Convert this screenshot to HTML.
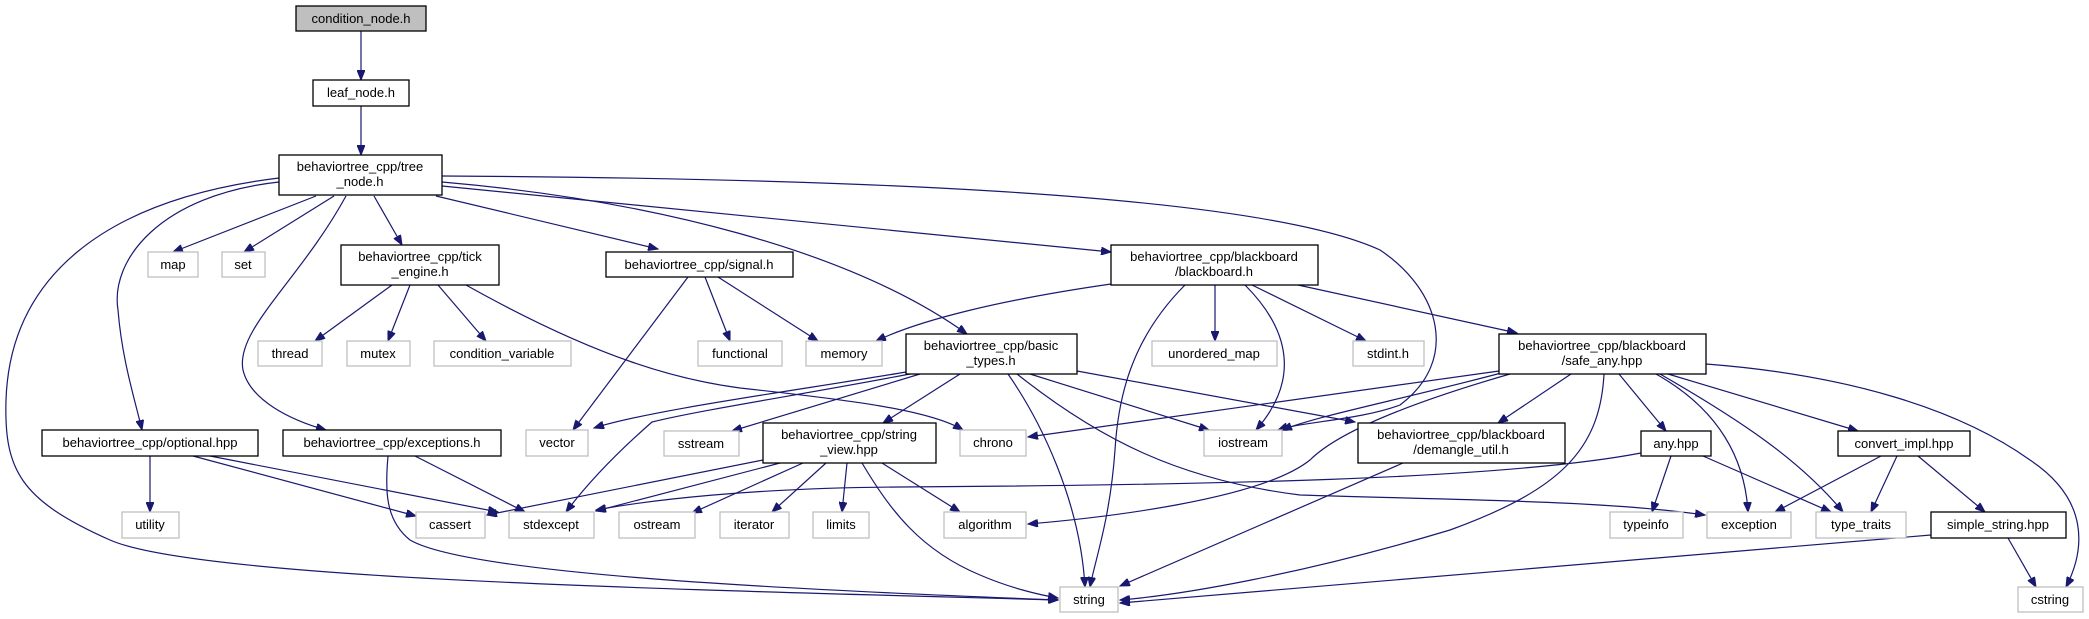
<!DOCTYPE html>
<html><head><meta charset="utf-8"><style>
html,body{margin:0;padding:0;background:#fff;}
svg{display:block;}
text{font-family:"Liberation Sans",sans-serif;font-size:13px;fill:#000;text-anchor:middle;}
.b{fill:#fff;stroke:#000;stroke-width:1.3;}
.g{fill:#fff;stroke:#bfbfbf;stroke-width:1.3;}
.e{fill:none;stroke:#191970;stroke-width:1.2;marker-end:url(#ah);}
</style></head><body>
<svg width="2089" height="619" viewBox="0 0 2089 619" xmlns="http://www.w3.org/2000/svg">
<defs><marker id="ah" markerUnits="userSpaceOnUse" markerWidth="11" markerHeight="8" refX="10" refY="4" orient="auto"><path d="M0,0 L10,4 L0,8 z" fill="#191970" stroke="#191970"/></marker></defs>

<!-- edges -->
<path class="e" d="M361,31 L361,80"/>
<path class="e" d="M361,106 L361,155"/>
<path class="e" d="M316,196 L173,252"/>
<path class="e" d="M334,196 L244,252"/>
<path class="e" d="M374,196 L402,245"/>
<path class="e" d="M436,196 L658,249"/>
<path class="e" d="M442,186 L1111,252"/>
<path class="e" d="M442,182 C650,200 850,250 967,334"/>
<path class="e" d="M279,182 C160,195 110,260 118,310 C122,360 135,400 142,430"/>
<path class="e" d="M346,196 C300,280 235,330 243,370 C250,400 290,420 326,430"/>
<path class="e" d="M279,178 C100,200 10,280 6,400 C4,470 20,500 110,540 C200,580 700,590 1058,600"/>
<path class="e" d="M442,176 C800,178 1250,190 1380,250 C1440,290 1460,360 1400,405 C1360,420 1300,422 1278,430"/>

<path class="e" d="M392,285 L315,341"/>
<path class="e" d="M410,285 L388,341"/>
<path class="e" d="M438,285 L486,341"/>
<path class="e" d="M466,285 C600,360 680,380 740,388 C850,400 930,410 963,430"/>

<path class="e" d="M688,277 L573,430"/>
<path class="e" d="M705,277 L730,341"/>
<path class="e" d="M718,277 L818,341"/>

<path class="e" d="M1111,284 C1000,300 920,320 876,341"/>
<path class="e" d="M1185,285 C1130,340 1118,400 1115,450 C1110,520 1095,560 1090,587"/>
<path class="e" d="M1215,285 L1215,341"/>
<path class="e" d="M1245,285 C1290,330 1300,380 1256,430"/>
<path class="e" d="M1252,285 L1366,341"/>
<path class="e" d="M1298,285 L1517,333"/>

<path class="e" d="M906,372 C800,390 650,410 594,428"/>
<path class="e" d="M910,374 C800,395 700,410 652,422 C620,450 590,480 566,512"/>
<path class="e" d="M920,374 L732,431"/>
<path class="e" d="M960,374 L883,423"/>
<path class="e" d="M1008,374 C1040,420 1080,500 1085,587"/>
<path class="e" d="M1030,374 L1209,430"/>
<path class="e" d="M1017,374 C1100,440 1180,480 1300,495 C1450,500 1600,500 1705,515"/>
<path class="e" d="M1077,371 L1355,422"/>

<path class="e" d="M763,460 L487,515"/>
<path class="e" d="M780,463 L596,511"/>
<path class="e" d="M803,463 L692,513"/>
<path class="e" d="M826,463 L772,512"/>
<path class="e" d="M847,463 L842,512"/>
<path class="e" d="M862,463 C890,510 920,550 980,575 C1010,588 1040,595 1058,598"/>
<path class="e" d="M882,463 L960,512"/>

<path class="e" d="M1499,371 L1028,437"/>
<path class="e" d="M1505,372 C1400,400 1320,415 1282,430"/>
<path class="e" d="M1510,374 C1420,400 1340,430 1310,460 C1260,500 1100,518 1028,524"/>
<path class="e" d="M1604,374 C1600,450 1560,490 1450,530 C1300,575 1180,595 1120,600"/>
<path class="e" d="M1571,374 L1498,423"/>
<path class="e" d="M1619,374 L1666,431"/>
<path class="e" d="M1656,374 C1720,410 1745,460 1748,512"/>
<path class="e" d="M1660,374 C1740,420 1800,460 1843,512"/>
<path class="e" d="M1668,374 L1858,431"/>
<path class="e" d="M1706,364 C1850,375 1960,410 2030,460 C2090,500 2085,550 2066,587"/>

<path class="e" d="M1671,456 L1652,512"/>
<path class="e" d="M1703,456 L1831,512"/>
<path class="e" d="M1641,453 C1500,480 1200,485 900,487 C750,488 650,500 596,510"/>

<path class="e" d="M1881,456 L1775,512"/>
<path class="e" d="M1897,456 L1871,512"/>
<path class="e" d="M1918,456 L1985,512"/>
<path class="e" d="M1931,535 L1120,603"/>
<path class="e" d="M2008,538 L2036,587"/>
<path class="e" d="M1403,463 L1120,586"/>

<path class="e" d="M150,456 L150,512"/>
<path class="e" d="M193,456 L416,516"/>
<path class="e" d="M210,456 L498,512"/>
<path class="e" d="M415,456 L525,512"/>
<path class="e" d="M388,456 C385,490 385,520 410,540 C470,575 800,590 1058,600"/>

<!-- nodes -->
<rect x="296" y="6" width="130" height="25" fill="#bfbfbf" stroke="#000" stroke-width="1.3"/><text x="361" y="23">condition_node.h</text>
<rect class="b" x="313" y="80" width="96" height="26"/><text x="361" y="97">leaf_node.h</text>
<rect class="b" x="279" y="155" width="163" height="40"/><text x="360" y="171">behaviortree_cpp/tree</text><text x="360" y="186">_node.h</text>
<rect class="g" x="148" y="252" width="50" height="25"/><text x="173" y="269">map</text>
<rect class="g" x="222" y="252" width="43" height="25"/><text x="243" y="269">set</text>
<rect class="b" x="341" y="245" width="158" height="40"/><text x="420" y="261">behaviortree_cpp/tick</text><text x="420" y="276">_engine.h</text>
<rect class="b" x="606" y="252" width="187" height="25"/><text x="699" y="269">behaviortree_cpp/signal.h</text>
<rect class="b" x="1111" y="245" width="207" height="40"/><text x="1214" y="261">behaviortree_cpp/blackboard</text><text x="1214" y="276">/blackboard.h</text>
<rect class="g" x="258" y="341" width="64" height="25"/><text x="290" y="358">thread</text>
<rect class="g" x="347" y="341" width="63" height="25"/><text x="378" y="358">mutex</text>
<rect class="g" x="434" y="341" width="137" height="25"/><text x="502" y="358">condition_variable</text>
<rect class="g" x="698" y="341" width="84" height="25"/><text x="740" y="358">functional</text>
<rect class="g" x="806" y="341" width="76" height="25"/><text x="844" y="358">memory</text>
<rect class="b" x="906" y="334" width="171" height="40"/><text x="991" y="350">behaviortree_cpp/basic</text><text x="991" y="365">_types.h</text>
<rect class="g" x="1152" y="341" width="125" height="25"/><text x="1214" y="358">unordered_map</text>
<rect class="g" x="1353" y="341" width="71" height="25"/><text x="1388" y="358">stdint.h</text>
<rect class="b" x="1499" y="334" width="207" height="40"/><text x="1602" y="350">behaviortree_cpp/blackboard</text><text x="1602" y="365">/safe_any.hpp</text>
<rect class="b" x="42" y="430" width="216" height="26"/><text x="150" y="447">behaviortree_cpp/optional.hpp</text>
<rect class="b" x="283" y="430" width="218" height="26"/><text x="392" y="447">behaviortree_cpp/exceptions.h</text>
<rect class="g" x="526" y="430" width="62" height="26"/><text x="557" y="447">vector</text>
<rect class="g" x="664" y="431" width="75" height="25"/><text x="701" y="448">sstream</text>
<rect class="b" x="763" y="423" width="173" height="40"/><text x="849" y="439">behaviortree_cpp/string</text><text x="849" y="454">_view.hpp</text>
<rect class="g" x="960" y="430" width="66" height="26"/><text x="993" y="447">chrono</text>
<rect class="g" x="1204" y="430" width="78" height="26"/><text x="1243" y="447">iostream</text>
<rect class="b" x="1358" y="423" width="207" height="40"/><text x="1461" y="439">behaviortree_cpp/blackboard</text><text x="1461" y="454">/demangle_util.h</text>
<rect class="b" x="1641" y="431" width="70" height="25"/><text x="1676" y="448">any.hpp</text>
<rect class="b" x="1838" y="431" width="132" height="25"/><text x="1904" y="448">convert_impl.hpp</text>
<rect class="g" x="122" y="512" width="57" height="26"/><text x="150" y="529">utility</text>
<rect class="g" x="416" y="512" width="69" height="26"/><text x="450" y="529">cassert</text>
<rect class="g" x="509" y="512" width="85" height="26"/><text x="551" y="529">stdexcept</text>
<rect class="g" x="619" y="512" width="76" height="26"/><text x="657" y="529">ostream</text>
<rect class="g" x="720" y="512" width="69" height="26"/><text x="754" y="529">iterator</text>
<rect class="g" x="813" y="512" width="56" height="26"/><text x="841" y="529">limits</text>
<rect class="g" x="944" y="512" width="82" height="26"/><text x="985" y="529">algorithm</text>
<rect class="g" x="1610" y="512" width="73" height="26"/><text x="1646" y="529">typeinfo</text>
<rect class="g" x="1707" y="512" width="84" height="26"/><text x="1749" y="529">exception</text>
<rect class="g" x="1816" y="512" width="90" height="26"/><text x="1861" y="529">type_traits</text>
<rect class="b" x="1931" y="512" width="135" height="26"/><text x="1998" y="529">simple_string.hpp</text>
<rect class="g" x="1060" y="587" width="58" height="25"/><text x="1089" y="604">string</text>
<rect class="g" x="2018" y="587" width="65" height="25"/><text x="2050" y="604">cstring</text>
</svg>
</body></html>
